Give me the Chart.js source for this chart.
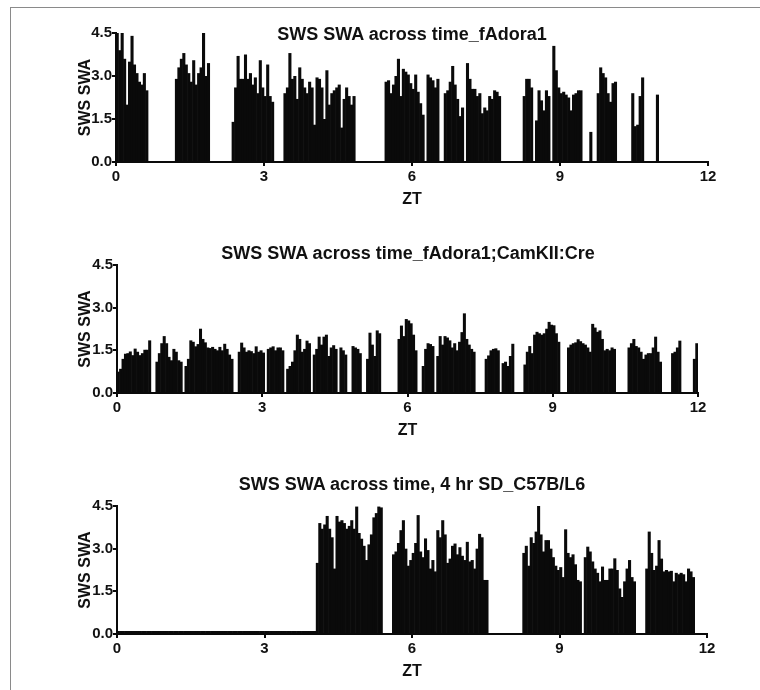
<!DOCTYPE html>
<html>
<head>
<meta charset="utf-8">
<script src="https://cdn.jsdelivr.net/npm/chart.js@4.4.1/dist/chart.umd.min.js"></script>
<style>
  html, body { margin: 0; padding: 0; background: #fff; }
  body { width: 760px; height: 690px; position: relative; overflow: hidden; }
  #frame { position: absolute; left: 10px; top: 7px; width: 800px; height: 800px;
           border-left: 1.5px solid #8a8a8a; border-top: 1.5px solid #8a8a8a; }
  canvas { position: absolute; left: 0; }
  .title { position: absolute; transform: translateX(-50%); white-space: nowrap;
           font: bold 18px "Liberation Sans", Arial, sans-serif; line-height: 20px; color: #111; z-index: 2; }
</style>
</head>
<body>
<div id="frame"></div>
<div class="title" id="t1" style="left:412px; top:24px;"></div>
<div class="title" id="t2" style="left:408px; top:243px;"></div>
<div class="title" id="t3" style="left:412px; top:474px;"></div>
<canvas id="c1" width="760" height="212" style="top:0px"></canvas>
<canvas id="c2" width="760" height="211" style="top:232px"></canvas>
<canvas id="c3" width="760" height="211" style="top:473px"></canvas>
<script>
// one bar per 0.05 h (3 min) of ZT, 240 bars per panel; null = no SWS in that bin
const BIN = 0.05;
const xTicks = [0, 3, 6, 9, 12];
const yTicks = [0, 1.5, 3, 4.5];
const panelTitles = [
  'SWS SWA across time_fAdora1',
  'SWS SWA across time_fAdora1;CamKII:Cre',
  'SWS SWA across time, 4 hr SD_C57B/L6'
];

const swaAdora = [
  4.5, 3.9, 4.5, 3.6, 2.0, 3.5, 4.4, 3.4, 3.1, 2.8,
  2.7, 3.1, 2.5, null, null, null, null, null, null, null,
  null, null, null, null, 2.9, 3.3, 3.6, 3.8, 3.4, 3.1,
  2.8, 3.55, 2.7, 3.1, 3.3, 4.5, 3.0, 3.45, null, null,
  null, null, null, null, null, null, null, 1.4, 2.6, 3.7,
  2.9, 2.9, 3.75, 2.9, 3.1, 2.7, 2.95, 2.4, 3.55, 2.6,
  2.3, 3.4, 2.3, 2.1, null, null, null, null, 2.4, 2.6,
  3.8, 2.9, 3.0, 2.2, 3.3, 2.9, 2.6, 2.4, 2.8, 2.6,
  1.3, 2.95, 2.9, 2.6, 1.5, 3.2, 2.0, 2.4, 2.5, 2.6,
  2.7, 1.2, 2.2, 2.6, 2.3, 2.0, 2.3, null, null, null,
  null, null, null, null, null, null, null, null, null, 2.8,
  2.85, 2.4, 2.7, 3.0, 3.6, 2.3, 3.25, 3.15, 3.05, 2.75,
  2.55, 3.05, 2.45, 2.05, 1.65, null, 3.05, 2.95, 2.85, 2.6,
  2.9, null, null, 2.4, 2.5, 2.8, 3.35, 2.7, 2.2, 1.6,
  1.9, null, 3.45, 2.9, 2.55, 2.55, 2.3, 2.4, 1.7, 1.9,
  1.8, 2.3, 2.2, 2.5, 2.45, 2.3, null, null, null, null,
  null, null, null, null, null, 2.3, 2.9, 2.9, 2.6, null,
  1.45, 2.5, 2.15, 1.8, 2.5, 2.3, null, 4.05, 3.2, 2.6,
  2.4, 2.45, 2.35, 2.25, 1.8, 2.35, 2.4, 2.5, 2.5, null,
  null, null, 1.05, null, null, 2.4, 3.3, 3.1, 2.95, 2.4,
  2.1, 2.75, 2.8, null, null, null, null, null, null, 2.4,
  1.25, 1.3, 2.3, 2.95, null, null, null, null, null, 2.35,
  null, null, null, null, null, null, null, null, null, null,
  null, null, null, null, null, null, null, null, null, null
];

const swaCamKII = [
  0.75, 0.85, 1.2, 1.38, 1.4, 1.46, 1.33, 1.56, 1.45, 1.33,
  1.4, 1.52, 1.52, 1.85, null, null, 1.1, 1.4, 1.75, 2.0,
  1.75, 1.27, 1.15, 1.55, 1.45, 1.15, 1.1, null, 0.95, 1.2,
  1.85, 1.8, 1.64, 1.72, 2.26, 1.9, 1.78, 1.6, 1.58, 1.62,
  1.55, 1.5, 1.62, 1.5, 1.73, 1.55, 1.35, 1.2, null, null,
  1.45, 1.77, 1.6, 1.45, 1.5, 1.47, 1.4, 1.64, 1.45, 1.5,
  1.42, null, 1.55, 1.6, 1.64, 1.5, 1.6, 1.6, 1.5, null,
  0.85, 0.95, 1.1, 1.5, 2.05, 1.9, 1.45, 1.55, 1.84, 1.75,
  null, 1.35, 1.55, 1.98, 1.7, 1.98, 2.05, 1.3, 1.6, 1.68,
  1.55, null, 1.6, 1.5, 1.35, null, null, 1.65, 1.6, 1.55,
  1.4, null, null, 1.2, 2.12, 1.7, 1.3, 2.2, 2.1, null,
  null, null, null, null, null, null, 1.9, 2.37, 2.0, 2.6,
  2.55, 2.45, 2.05, 1.5, null, null, 0.95, 1.55, 1.75, 1.72,
  1.65, null, 1.3, 2.0, 1.7, 2.0, 1.95, 1.85, 1.6, 1.75,
  1.5, 1.8, 2.14, 2.8, 1.9, 1.7, 1.55, 1.45, null, null,
  null, null, 1.2, 1.32, 1.5, 1.55, 1.57, 1.5, null, 1.05,
  1.1, 0.95, 1.3, 1.73, null, null, null, null, 1.0, 1.45,
  1.65, 1.4, 2.05, 2.15, 2.1, 2.05, 2.1, 2.26, 2.5, 2.4,
  2.38, 2.1, 1.8, null, null, null, 1.6, 1.7, 1.75, 1.78,
  1.89, 1.82, 1.75, 1.7, 1.6, 1.45, 2.43, 2.3, 2.15, 2.2,
  1.9, 1.5, 1.55, 1.5, 1.6, 1.55, null, null, null, null,
  null, 1.6, 1.75, 1.9, 1.65, 1.6, 1.45, 1.2, 1.35, 1.4,
  1.4, 1.6, 1.98, 1.45, 1.1, null, null, null, null, 1.4,
  1.45, 1.6, 1.84, null, null, null, null, null, 1.2, 1.75
];

// first 4 h are sleep deprivation: SWA = 0
const swaSD = [
  0, 0, 0, 0, 0, 0, 0, 0, 0, 0,
  0, 0, 0, 0, 0, 0, 0, 0, 0, 0,
  0, 0, 0, 0, 0, 0, 0, 0, 0, 0,
  0, 0, 0, 0, 0, 0, 0, 0, 0, 0,
  0, 0, 0, 0, 0, 0, 0, 0, 0, 0,
  0, 0, 0, 0, 0, 0, 0, 0, 0, 0,
  0, 0, 0, 0, 0, 0, 0, 0, 0, 0,
  0, 0, 0, 0, 0, 0, 0, 0, 0, 0,
  0, 2.5, 3.9, 3.7, 3.85, 4.15, 3.7, 3.4, 2.3, 4.15,
  3.95, 4.0, 3.9, 3.7, 3.8, 4.0, 3.7, 4.48, 3.55, 3.35,
  3.1, 2.6, 3.15, 3.5, 4.1, 4.25, 4.48, 4.45, null, null,
  null, null, 2.8, 2.9, 3.2, 3.65, 4.0, 3.0, 2.4, 2.6,
  2.85, 3.2, 4.18, 2.9, 2.7, 3.36, 2.95, 2.3, 2.6, 2.2,
  3.65, 3.4, 4.0, 3.5, 2.5, 2.65, 3.1, 3.18, 2.8, 3.05,
  2.75, 2.6, 3.24, 2.55, 2.6, 2.3, 3.0, 3.52, 3.4, 1.9,
  1.9, null, null, null, null, null, null, null, null, null,
  null, null, null, null, null, 2.85, 3.1, 2.4, 3.4, 3.2,
  3.6, 4.5, 3.5, 2.9, 3.3, 3.3, 3.0, 2.7, 2.4, 2.25,
  2.35, 2.0, 3.68, 2.85, 2.7, 2.8, 2.45, 1.9, 1.85, null,
  2.7, 3.07, 2.9, 2.55, 2.3, 2.15, 1.85, 2.37, 1.9, 1.9,
  2.3, 2.3, 2.66, 2.25, 1.6, 1.3, 1.85, 2.3, 2.6, 2.0,
  1.85, null, null, null, null, 2.3, 3.6, 2.85, 2.25, 2.4,
  3.3, 2.65, 2.2, 2.25, 2.2, 2.22, 1.85, 2.15, 2.1, 2.15,
  2.1, 1.85, 2.3, 2.2, 2.0, null, null, null, null, null
];

Chart.defaults.font.family = '"Liberation Sans", Arial, sans-serif';
Chart.defaults.font.weight = 'bold';
Chart.defaults.color = '#111';

const INK = '#0a0a0a';

function makePanel(canvasId, values, padding, yWidth, minLen) {
  const points = values.map((v, i) => ({ x: (i + 0.5) * BIN, y: v }));
  return new Chart(document.getElementById(canvasId), {
    type: 'bar',
    data: {
      datasets: [{
        data: points,
        backgroundColor: INK,
        borderWidth: 0,
        // slight overlap so neighbouring bars don't leave hairline seams
        barPercentage: 1.25,
        categoryPercentage: 1,
        minBarLength: minLen
      }]
    },
    options: {
      responsive: false,
      animation: false,
      layout: { padding: padding },
      plugins: { legend: { display: false }, tooltip: { enabled: false } },
      scales: {
        x: {
          type: 'linear',
          min: 0,
          max: 12,
          offset: false,
          afterBuildTicks: s => { s.ticks = xTicks.map(v => ({ value: v })); },
          afterFit: s => { s.height = 50; s.paddingLeft = 0; s.paddingRight = 0; },
          grid: { offset: false, drawOnChartArea: false, drawTicks: true, tickLength: 4, color: INK, lineWidth: 2 },
          border: { display: true, color: INK, width: 2 },
          ticks: { padding: 2, font: { size: 15 }, maxRotation: 0, autoSkip: false, callback: v => String(v) },
          title: { display: true, text: 'ZT', font: { size: 16 }, padding: { top: 0, bottom: 3 } }
        },
        y: {
          min: 0,
          max: 4.5,
          afterBuildTicks: s => { s.ticks = yTicks.map(v => ({ value: v })); },
          afterFit: s => { s.width = yWidth; s.paddingTop = 0; s.paddingBottom = 0; },
          grid: { drawOnChartArea: false, drawTicks: true, tickLength: 4, color: INK, lineWidth: 2 },
          border: { display: true, color: INK, width: 2 },
          ticks: { padding: 0, font: { size: 15 }, callback: v => Number(v).toFixed(1) },
          title: { display: true, text: 'SWS SWA', font: { size: 16 }, padding: { top: 6, bottom: 0 } }
        }
      }
    }
  });
}

['t1', 't2', 't3'].forEach((id, i) => { document.getElementById(id).textContent = panelTitles[i]; });

makePanel('c1', swaAdora, { left: 70, right: 52, top: 33, bottom: 0 }, 46, 0);
makePanel('c2', swaCamKII, { left: 70, right: 62, top: 33, bottom: 0 }, 47, 0);
makePanel('c3', swaSD, { left: 70, right: 53, top: 33, bottom: 0 }, 47, 3);
</script>
</body>
</html>
